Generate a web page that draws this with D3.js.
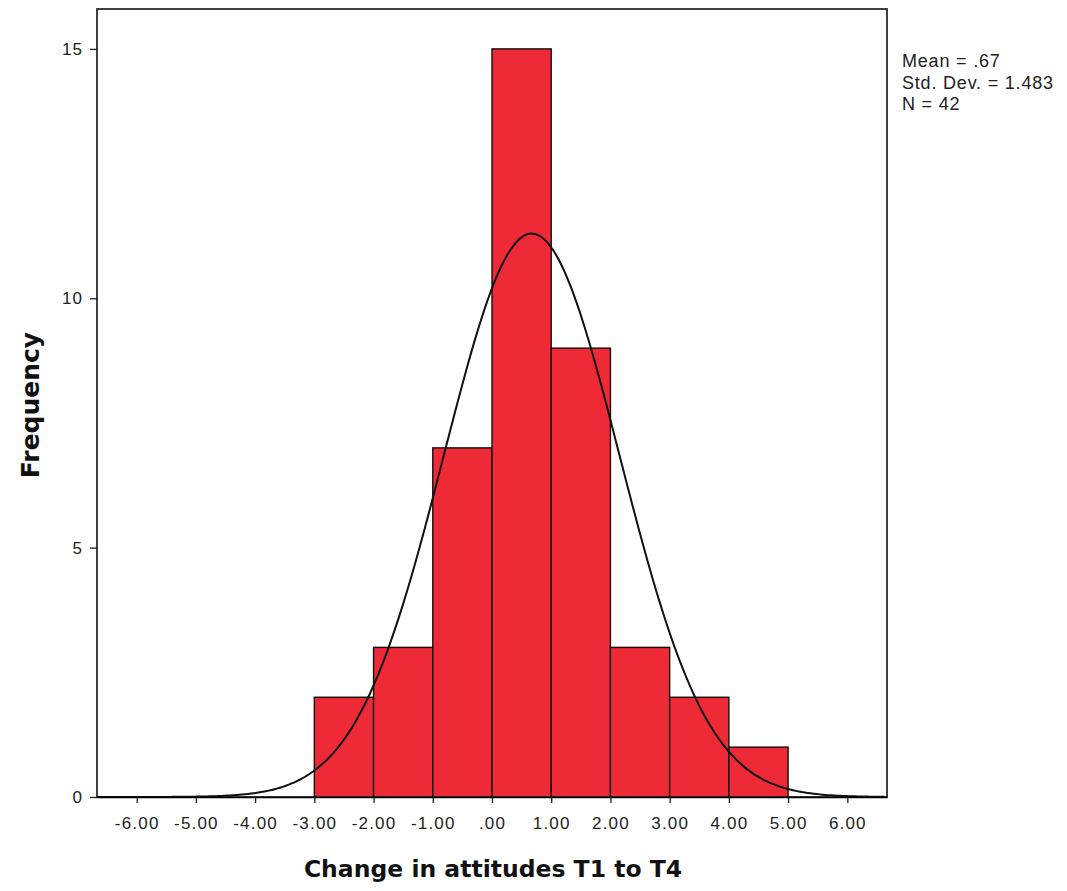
<!DOCTYPE html>
<html>
<head>
<meta charset="utf-8">
<script src="https://cdn.jsdelivr.net/npm/d3@7"></script>
<style>
  body { margin: 0; background: #fff; }
</style>
</head>
<body>
<svg id="chart" width="1067" height="891"></svg>
<script>
// bins: lower edge, upper edge, count
const binStart = [-3, -2, -1, 0, 1, 2, 3, 4];
const binEnd = [-2, -1, 0, 1, 2, 3, 4, 5];
const binCount = [2, 3, 7, 15, 9, 3, 2, 1];
const xTicks = [-6, -5, -4, -3, -2, -1, 0, 1, 2, 3, 4, 5, 6];
const yTicks = [0, 5, 10, 15];
const stats = ["Mean = .67", "Std. Dev. = 1.483", "N = 42"];
const mean = 0.67, sd = 1.483, n = 42, binWidth = 1;

const svg = d3.select("#chart");
const margin = { top: 9, right: 180, bottom: 94, left: 97 };
const width = 887 - margin.left;
const height = 797 - margin.top;

const g = svg.append("g")
    .attr("transform", `translate(${margin.left}, ${margin.top})`);

const x = d3.scaleLinear()
    .domain([-6.67, 6.67])
    .range([0, width]);

const y = d3.scaleLinear()
    .domain([0, 15.8])
    .range([height, 0]);

// SPSS style labels: ".00", "-6.00"
const fmt = v => {
    const s = d3.format(".2f")(Math.abs(v)).replace(/^0/, "");
    return (v < 0 ? "-" : "") + s;
};

// frame
g.append("rect")
    .attr("x", 0).attr("y", 0)
    .attr("width", width).attr("height", height)
    .attr("fill", "none")
    .attr("stroke", "#000")
    .attr("stroke-width", 1.5);

// bars
g.selectAll("rect.bar")
    .data(binCount)
    .enter()
    .append("rect")
    .classed("bar", true)
    .attr("x", (d, i) => x(binStart[i]))
    .attr("y", d => y(d))
    .attr("width", (d, i) => x(binEnd[i]) - x(binStart[i]))
    .attr("height", d => y(0) - y(d))
    .attr("fill", "#ee2a36")
    .attr("stroke", "#111")
    .attr("stroke-width", 1.4);

// normal curve
const curveX = d3.range(-6.67, 6.671, 0.05);
const normal = v => n * binWidth / (sd * Math.sqrt(2 * Math.PI)) * Math.exp(-0.5 * ((v - mean) / sd) ** 2);
g.append("path")
    .datum(curveX)
    .attr("fill", "none")
    .attr("stroke", "#111")
    .attr("stroke-width", 2)
    .attr("d", d3.line().x(d => x(d)).y(d => y(normal(d))).curve(d3.curveBasis));

// x axis
const xAxis = g.append("g")
    .attr("transform", `translate(0, ${height})`)
    .call(d3.axisBottom(x).tickValues(xTicks).tickFormat(fmt).tickSize(6).tickSizeOuter(0));
xAxis.select(".domain").attr("stroke", "#000").attr("stroke-width", 1.5);
xAxis.selectAll(".tick line").attr("stroke", "#222").attr("stroke-width", 1.3);
xAxis.selectAll("text")
    .attr("y", 20)
    .attr("fill", "#222")
    .style("font-family", "Liberation Sans, Arial, sans-serif")
    .style("font-size", "17px")
    .style("letter-spacing", "1.2px");

// y axis
const yAxis = g.append("g")
    .call(d3.axisLeft(y).tickValues(yTicks).tickSize(7).tickSizeOuter(0));
yAxis.select(".domain").remove();
yAxis.selectAll(".tick line").attr("stroke", "#222").attr("stroke-width", 1.3);
yAxis.selectAll("text")
    .attr("x", -14)
    .attr("fill", "#222")
    .style("font-family", "Liberation Sans, Arial, sans-serif")
    .style("font-size", "17px")
    .style("letter-spacing", "1px");

// axis titles
svg.append("text")
    .attr("x", 493)
    .attr("y", 877)
    .attr("text-anchor", "middle")
    .style("font-family", "DejaVu Sans, Verdana, sans-serif")
    .style("font-weight", "bold")
    .style("font-size", "23.5px")
    .attr("fill", "#111")
    .text("Change in attitudes T1 to T4");

svg.append("text")
    .attr("transform", "translate(39, 405) rotate(-90)")
    .attr("text-anchor", "middle")
    .style("font-family", "DejaVu Sans, Verdana, sans-serif")
    .style("font-weight", "bold")
    .style("font-size", "25px")
    .attr("fill", "#111")
    .text("Frequency");

// stats box text
svg.selectAll(".stat")
    .data(stats)
    .enter()
    .append("text")
    .classed("stat", true)
    .attr("x", 902)
    .attr("y", (d, i) => 67 + i * 21.5)
    .style("font-family", "Liberation Sans, Arial, sans-serif")
    .style("font-size", "18px")
    .style("letter-spacing", "0.8px")
    .attr("fill", "#222")
    .text(d => d);
</script>
</body>
</html>
